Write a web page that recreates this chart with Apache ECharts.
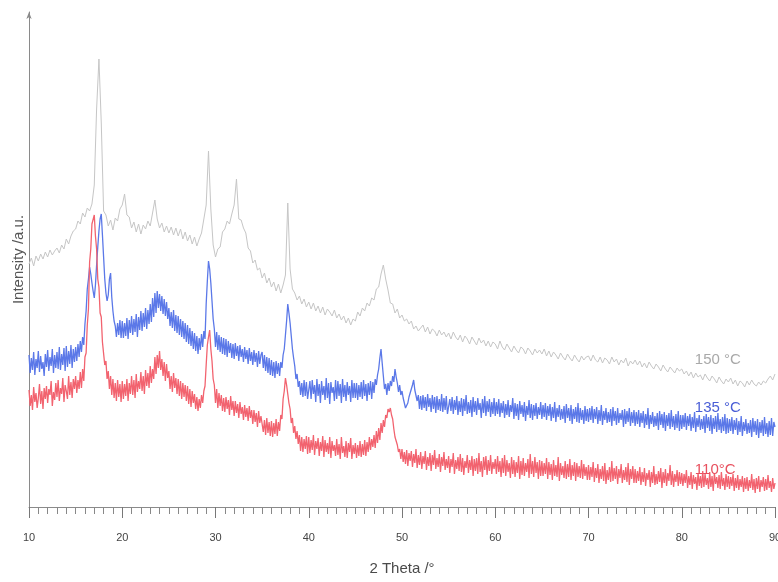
<!DOCTYPE html>
<html>
<head>
<meta charset="utf-8">
<script src="https://cdn.jsdelivr.net/npm/echarts@6/dist/echarts.min.js"></script>
<style>html,body{margin:0;padding:0;background:#fff}#c{width:778px;height:582px}</style>
</head>
<body>
<div id="c"></div>
<script>
// 2θ sampling grids (degrees): start and step of each scan
var thetaStart = 10;
var stepFine = 0.125;   // 110 °C and 135 °C scans
var stepCoarse = 0.25;  // 150 °C scan
var xTicks = [10, 20, 30, 40, 50, 60, 70, 80, 90];

// 110 °C (red) intensity, a.u. — 8 points per degree, one line = 5°
var s110 = [
117,101,112,97,120,105,114,99, 109,123,103,116,98,119,108,121, 104,118,112,126,101,115,107,124, 110,127,106,119,113,129,105,122, 116,108,131,112,125,109,128,118,
131,114,127,118,135,119,138,126, 150,154,182,198,245,258,283,281, 292,271,258,228,220,194,190,165, 164,142,146,128,136,118,131,112, 128,109,124,106,127,110,123,105,
126,108,123,111,128,106,124,113, 131,112,127,109,133,115,126,118, 135,116,131,113,137,121,134,119, 141,124,138,128,150,133,152,139, 156,137,148,131,145,126,143,129,
136,118,131,115,134,119,129,113, 128,111,126,108,124,110,122,106, 121,103,118,100,116,104,113,98, 110,96,108,99,112,104,116,121, 142,162,170,177,158,146,128,122,
104,118,99,114,101,112,96,109, 95,110,98,107,92,111,97,106, 91,106,94,103,89,105,93,100, 87,102,90,99,86,101,89,97, 83,97,85,94,80,96,84,91,
90,75,87,72,89,74,85,71, 86,70,84,73,88,71,85,76, 92,88,108,116,129,122,113,104, 98,84,89,74,81,68,76,63, 72,56,70,55,68,58,71,53,
70,54,67,57,72,52,66,58, 69,51,65,56,71,50,67,55, 64,53,70,49,66,56,62,51, 68,52,63,48,70,54,61,50, 66,49,64,55,69,48,62,53,
64,49,62,51,66,50,63,52, 67,51,65,55,70,57,68,60, 72,59,76,64,79,67,84,74, 87,80,92,89,98,95,99,92, 88,78,70,66,62,55,58,48,
58,45,55,43,57,41,54,46, 56,40,53,44,58,39,52,42, 55,38,51,43,56,37,50,41, 54,36,52,42,57,38,49,40, 53,35,50,41,55,37,48,39,
51,34,48,40,54,33,47,38, 50,36,53,35,49,32,46,39, 52,34,47,37,51,31,48,36, 49,33,54,35,46,30,50,37, 51,32,47,36,52,33,45,38,
48,33,51,35,46,30,49,34, 52,31,47,35,44,29,50,33, 47,30,45,34,51,28,46,32, 49,31,44,35,48,29,53,33, 46,30,50,34,45,28,47,31,
46,31,44,33,49,28,45,32, 43,27,47,31,42,30,50,26, 44,32,41,29,46,28,43,30, 48,27,42,31,45,26,44,30, 41,29,47,28,43,31,40,27,
42,27,40,30,45,25,39,29, 43,24,38,28,41,26,44,23, 37,27,40,25,46,26,39,28, 41,23,38,29,43,24,37,27, 40,25,44,22,38,28,41,24,
38,24,36,26,40,22,35,25, 39,21,34,27,37,20,35,24, 41,22,33,23,36,25,39,19, 35,24,38,21,34,26,42,22, 36,20,33,25,37,21,35,23,
34,21,33,24,37,19,31,22, 35,18,32,23,30,17,34,21, 31,19,36,20,33,22,29,18, 35,20,31,16,34,23,30,19, 32,18,35,21,29,17,33,20,
31,18,30,21,33,16,29,19, 32,17,28,20,31,15,29,18, 30,16,27,19,33,17,28,14, 29,18,31,15,27,20,30,16, 28,17,32,19,26,15,29,18,
24
];

// 135 °C (blue) intensity, a.u. — 8 points per degree, one line = 5°
var s135 = [
152,134,149,137,155,132,148,139, 156,135,151,138,145,131,153,140, 157,136,150,141,158,134,152,139, 155,138,160,137,153,142,159,136, 161,140,156,143,162,139,158,145,
160,146,163,150,166,155,170,162, 183,196,218,228,240,233,224,216, 209,222,242,260,276,288,293,272, 250,228,214,206,212,228,234,210, 196,186,181,170,184,172,187,169,
186,169,184,171,189,168,187,174, 191,172,188,175,193,170,190,177, 196,176,194,180,199,178,197,183, 203,185,209,190,214,194,216,199, 213,196,211,193,208,191,205,188,
199,181,195,179,197,176,192,174, 191,172,188,170,186,168,184,165, 182,163,179,161,176,158,174,156, 171,153,169,157,173,160,176,168, 203,226,246,238,224,206,188,178,
160,175,157,172,155,170,153,169, 152,168,150,166,154,164,149,163, 148,164,151,161,146,162,150,158, 145,160,148,157,143,159,146,155, 142,157,145,154,140,156,143,152,
155,139,152,136,150,134,149,132, 147,131,145,129,146,133,144,131, 145,139,152,158,172,186,203,194, 184,171,158,149,141,128,133,120, 126,112,124,110,127,111,125,108,
110,126,108,127,113,122,105,128, 111,123,104,126,112,121,107,129, 109,124,103,125,114,120,106,127, 108,126,111,123,104,128,110,122, 106,125,112,121,105,127,109,124,
109,124,107,122,110,125,108,127, 111,123,106,124,112,126,108,125, 114,128,122,132,138,149,158,144, 131,118,123,112,124,116,126,121, 131,125,138,130,124,115,122,112,
116,109,110,99,101,104,110,114, 118,122,127,117,119,106,112,98, 111,97,112,99,110,96,113,100, 109,95,112,98,110,94,111,97, 108,96,113,95,109,97,111,93,
94,108,96,110,93,107,97,111, 92,106,95,109,91,108,96,112, 93,105,94,107,90,110,95,106, 92,109,97,104,89,108,94,111, 91,106,95,108,90,105,93,109,
91,105,93,108,90,104,94,106, 89,103,92,107,90,102,95,109, 88,104,91,103,87,106,93,102, 90,105,86,101,92,107,89,103, 87,102,91,104,88,100,92,105,
88,102,90,104,87,101,91,103, 86,100,89,105,85,99,90,102, 87,98,88,101,84,103,89,99, 86,102,83,98,88,100,85,104, 84,99,87,97,83,101,86,98,
85,99,87,101,84,98,88,100, 83,97,86,102,82,96,87,99, 84,95,85,98,81,100,86,96, 82,99,84,94,87,97,80,98, 83,96,85,99,81,95,84,97,
81,95,83,97,80,94,84,96, 79,93,82,99,78,92,83,95, 80,91,81,94,77,96,82,93, 79,95,76,92,81,94,78,97, 80,91,77,93,79,96,76,92,
78,92,80,94,77,91,81,93, 76,90,79,95,75,89,80,92, 77,88,78,91,74,93,79,90, 76,92,73,89,78,91,75,94, 77,88,74,90,76,93,73,89,
74,88,76,90,73,87,77,89, 72,86,75,91,71,85,76,88, 73,84,74,87,70,89,75,86, 72,88,69,85,74,87,71,90, 73,84,70,86,72,89,71,85,
80
];

// 150 °C (grey) intensity, a.u. — 4 points per degree, one line = 5°
var s150 = [
243,249,241,251,246,253,248,255,250,257,252,256,259,254,262,258,268,263,271,276,
278,286,283,294,290,299,296,303,322,398,448,384,296,292,281,287,277,289,286,298,
302,313,292,290,279,285,275,283,273,282,278,286,281,294,307,288,279,284,275,281,
274,280,272,279,271,278,268,275,266,272,263,270,261,268,274,288,302,356,298,262,
250,258,260,275,278,286,283,293,302,328,288,287,279,274,259,256,244,247,237,239,
229,234,224,229,220,225,216,223,214,222,232,304,238,218,214,207,211,203,208,200,
205,198,204,196,201,194,200,192,198,195,191,197,189,193,187,191,184,189,182,188,
186,195,191,199,196,204,201,209,207,218,220,233,242,228,217,204,203,194,198,189,
192,186,188,183,186,178,181,176,179,182,175,180,173,178,176,171,177,172,175,170,
174,168,175,170,167,172,165,171,168,163,170,166,162,169,164,167,161,166,160,165,
163,158,166,160,157,163,159,155,161,157,154,160,158,153,159,156,152,158,154,157,
153,158,151,156,150,155,152,148,154,150,147,153,149,146,152,148,145,151,147,150,
151,146,152,147,145,150,144,149,147,143,150,145,148,142,147,144,149,141,146,143,
147,142,146,140,144,139,145,141,138,143,140,136,142,138,135,140,137,134,139,136,
138,133,136,131,135,129,134,130,132,127,133,129,126,131,128,124,130,126,123,128,
125,129,123,127,121,126,124,120,126,122,127,123,121,125,122,126,124,128,131,127,
133
];

var seriesNames = ['150 °C', '135 °C', '110°C'];
var labelAt = [[81.4, 147], [81.4, 99], [81.4, 37]];

function pairs(arr, step) {
  return arr.map(function (v, i) { return [thetaStart + i * step, v]; });
}

var chart = echarts.init(document.getElementById('c'), null, {renderer: 'canvas'});
var colors = ['#c6c6c6', '#5b78e8', '#f2636f'];
var textColors = ['#a9a9a9', '#4a5ed6', '#e8505e'];
var font = 'Liberation Sans, Arial, sans-serif';

chart.setOption({
  animation: false,
  backgroundColor: '#fff',
  grid: {left: 29, right: 3, top: 12, bottom: 75, containLabel: false, outerBoundsMode: 'none'},
  xAxis: {
    type: 'value', min: 10, max: 90, interval: 10,
    name: '2 Theta /°', nameLocation: 'middle', nameGap: 54,
    nameTextStyle: {fontSize: 15, color: '#4a4a4a', fontFamily: font},
    axisLine: {show: true, lineStyle: {color: '#8a8a8a', width: 1}},
    axisTick: {show: true, inside: false, length: 11, lineStyle: {color: '#777'}},
    minorTick: {show: true, splitNumber: 10, length: 7, lineStyle: {color: '#888'}},
    axisLabel: {
      margin: 25, fontSize: 11, color: '#444', fontFamily: font, hideOverlap: false,
      formatter: function (v) { return xTicks.indexOf(v) >= 0 ? String(v) : ''; }
    },
    splitLine: {show: false}
  },
  yAxis: {
    type: 'value', min: 0, max: 495,
    name: 'Intensity /a.u.', nameLocation: 'middle', nameGap: 3,
    nameTextStyle: {fontSize: 15, color: '#555', fontFamily: font},
    axisLine: {show: true, symbol: ['none', 'arrow'], symbolSize: [4, 7], lineStyle: {color: '#8a8a8a', width: 1}},
    axisTick: {show: false},
    axisLabel: {show: false},
    splitLine: {show: false}
  },
  series: [
    {name: seriesNames[0], type: 'line', data: pairs(s150, stepCoarse), showSymbol: false, symbol: 'none',
     lineStyle: {color: colors[0], width: 1}, z: 1},
    {name: seriesNames[1], type: 'line', data: pairs(s135, stepFine), showSymbol: false, symbol: 'none',
     lineStyle: {color: colors[1], width: 1.3}, z: 2},
    {name: seriesNames[2], type: 'line', data: pairs(s110, stepFine), showSymbol: false, symbol: 'none',
     lineStyle: {color: colors[2], width: 1.3}, z: 3}
  ]
});

var graphics = seriesNames.map(function (n, i) {
  var p = chart.convertToPixel({gridIndex: 0}, labelAt[i]);
  return {
    type: 'text', x: p[0], y: p[1], z: 10,
    style: {text: n, fill: textColors[i], fontSize: 15, fontFamily: font,
            textAlign: 'left', textVerticalAlign: 'middle'}
  };
});
chart.setOption({graphic: graphics});
</script>
</body>
</html>
